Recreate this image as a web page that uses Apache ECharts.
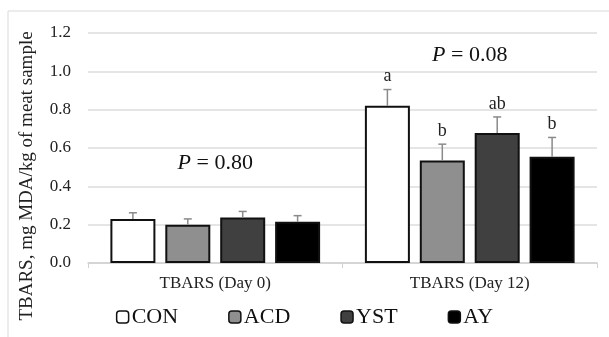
<!DOCTYPE html>
<html><head><meta charset="utf-8">
<script src="https://cdn.jsdelivr.net/npm/echarts@6/dist/echarts.min.js"></script>
<style>html,body{margin:0;padding:0;background:#fff}#c{width:609px;height:337px}</style>
</head><body><div id="c"></div>
<script>
var categories = ['TBARS (Day 0)', 'TBARS (Day 12)'];
var seriesNames = ['CON', 'ACD', 'YST', 'AY'];
var CON = [0.23, 0.82];
var ACD = [0.20, 0.535];
var YST = [0.237, 0.678];
var AY = [0.215, 0.555];
var CON_err = [0.032, 0.085];
var ACD_err = [0.030, 0.085];
var YST_err = [0.032, 0.084];
var AY_err = [0.032, 0.10];
var CON_sig = ['', 'a'];
var ACD_sig = ['', 'b'];
var YST_sig = ['', 'ab'];
var AY_sig = ['', 'b'];
var pLabels = ['0.80', '0.08'];
var pLabelY = [0.52, 1.085];
var yTicks = [0, 0.2, 0.4, 0.6, 0.8, 1.0, 1.2];

var values = [CON, ACD, YST, AY];
var errs = [CON_err, ACD_err, YST_err, AY_err];
var sigs = [CON_sig, ACD_sig, YST_sig, AY_sig];
var colors = ['#ffffff', '#8f8f8f', '#404040', '#000000'];
var font = 'Liberation Serif';
var bigSize = 22;
var catGap = 0.176, barGapR = 0.22;

var chart = echarts.init(document.getElementById('c'));
var series = [];
seriesNames.forEach(function (n, i) {
  series.push({
    name: n, type: 'bar', data: values[i],
    barGap: (barGapR * 100) + '%', barCategoryGap: (catGap * 100) + '%',
    itemStyle: { color: colors[i], borderColor: '#111', borderWidth: 2 },
    emphasis: { disabled: true }
  });
});
// error bars + significance letters
seriesNames.forEach(function (n, i) {
  var d = categories.map(function (c, k) { return [k, values[i][k], errs[i][k], sigs[i][k]]; });
  series.push({
    type: 'custom', silent: true, z: 5,
    data: d,
    renderItem: function (params, api) {
      var k = api.value(0);
      var v = api.value(1), e = api.value(2);
      var s = d[params.dataIndex][3];
      var band = api.size([1, 0])[0];
      var w = band * (1 - catGap) / (4 + 3 * barGapR);
      var g = w * barGapR;
      var total = 4 * w + 3 * g;
      var base = api.coord([k, v]);
      var cx = base[0] - total / 2 + i * (w + g) + w / 2;
      var top = api.coord([k, v + e])[1];
      var yb = base[1];
      var st = { stroke: '#8a8a8a', lineWidth: 1.5 };
      var children = [
        { type: 'line', shape: { x1: cx, y1: yb, x2: cx, y2: top }, style: st },
        { type: 'line', shape: { x1: cx - 4, y1: top, x2: cx + 4, y2: top }, style: st }
      ];
      if (s) {
        children.push({ type: 'text', style: { text: s, x: cx, y: top - 4, align: 'center', verticalAlign: 'bottom', fill: '#222', fontFamily: font, fontSize: 18 } });
      }
      return { type: 'group', children: children };
    }
  });
});
// P value labels
series.push({
  type: 'custom', silent: true, z: 6,
  data: categories.map(function (c, k) { return [k, pLabelY[k]]; }),
  renderItem: function (params, api) {
    var p = api.coord([api.value(0), api.value(1)]);
    return {
      type: 'text',
      style: {
        x: p[0], y: p[1], align: 'center', verticalAlign: 'middle',
        text: '{i|P}{n| = ' + pLabels[params.dataIndex] + '}',
        rich: {
          i: { fontStyle: 'italic', fontFamily: font, fontSize: bigSize, fill: '#111', color: '#111' },
          n: { fontFamily: font, fontSize: bigSize, fill: '#111', color: '#111' }
        },
        fontFamily: font, fontSize: bigSize, fill: '#111'
      }
    };
  }
});

chart.setOption({
  animation: false,
  backgroundColor: '#fff',
  textStyle: { fontFamily: font },
  grid: { left: 88, right: 12, top: 33, bottom: 74 },
  graphic: [
    { type: 'rect', shape: { x: 8, y: 11, width: 620, height: 400 }, style: { fill: 'none', stroke: '#d9d9d9', lineWidth: 1 }, silent: true },
    { type: 'text', x: 27, y: 176, rotation: Math.PI / 2, style: { text: 'TBARS, mg MDA/kg of meat sample', fontFamily: font, fontSize: 19, fill: '#222', align: 'center', verticalAlign: 'middle' } }
  ],
  legend: {
    data: seriesNames, bottom: 4, left: 'center', itemWidth: 12, itemHeight: 12, itemGap: 50,
    textStyle: { fontSize: bigSize, fontFamily: font, color: '#111', padding: [0, 0, 0, -2] },
    itemStyle: { borderColor: '#111', borderWidth: 1.5 }
  },
  xAxis: {
    type: 'category', data: categories,
    axisLine: { lineStyle: { color: '#d0d0d0', width: 1.5 } },
    axisTick: { show: true, length: 5, lineStyle: { color: '#d0d0d0' } },
    axisLabel: { fontSize: 17, color: '#222', margin: 12, fontFamily: font }
  },
  yAxis: {
    type: 'value', min: 0, max: 1.2, interval: 0.2,
    axisLine: { show: false }, axisTick: { show: false },
    splitLine: { lineStyle: { color: '#dcdcdc', width: 1.5 } },
    axisLabel: { fontSize: 17, color: '#222', margin: 17, fontFamily: font,
      formatter: function (v) { return v.toFixed(1); } }
  },
  series: series
});
</script></body></html>
